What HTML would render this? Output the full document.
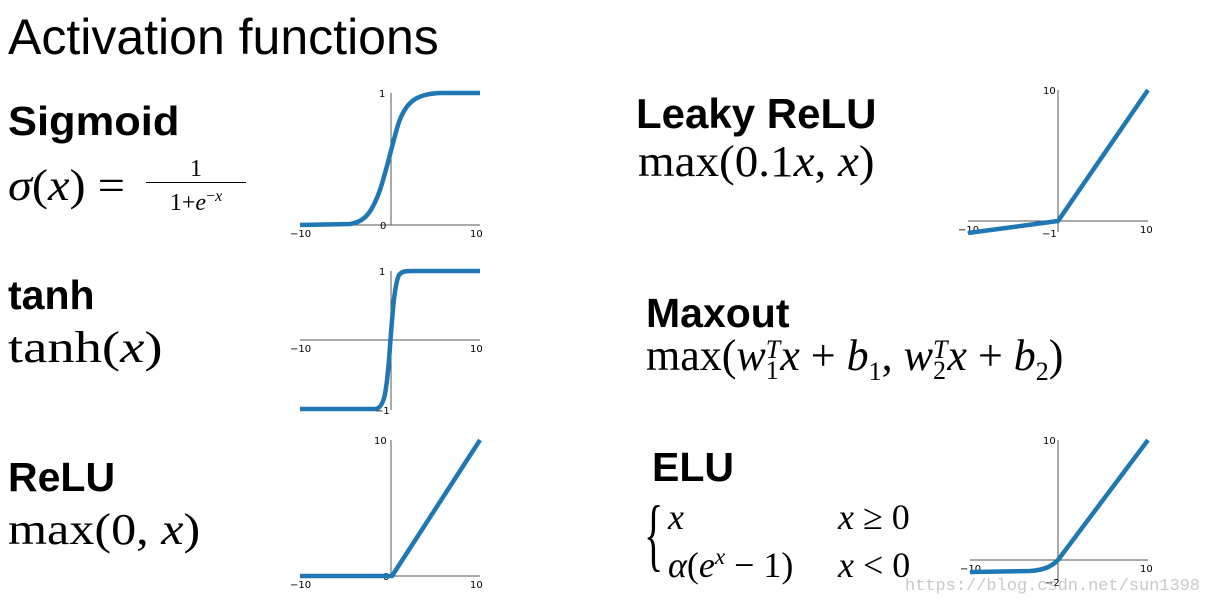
<!DOCTYPE html>
<html><head><meta charset="utf-8"><style>
html,body{margin:0;padding:0;background:#fff;}
body{width:1212px;height:605px;position:relative;overflow:hidden;}
.t{position:absolute;white-space:nowrap;color:#000;}
.h{font-family:"Liberation Sans",sans-serif;font-weight:bold;font-size:41px;transform-origin:left top;}
.m{font-family:"Liberation Serif",serif;font-size:44px;transform-origin:left top;}
i{font-style:italic;}
</style></head><body>
<div class="t" style="left:8px;top:8px;font-family:'Liberation Sans',sans-serif;font-size:50px;">Activation functions</div>

<div class="t h" style="left:8px;top:98px;transform:scaleX(1.06);">Sigmoid</div>
<div class="t m" style="left:8px;top:160px;transform:scaleX(1.1);"><i>σ</i>(<i>x</i>) =</div>
<div class="t" style="left:146px;top:156px;font-family:'Liberation Serif',serif;font-size:24px;text-align:center;width:100px;">
<div style="line-height:26px;">1</div><div style="border-top:1.5px solid #000;line-height:28px;">1+<i>e</i><sup style="font-size:16px">−<i>x</i></sup></div></div>

<div class="t h" style="left:8px;top:272px;">tanh</div>
<div class="t m" style="left:8px;top:322px;transform:scaleX(1.24);">tanh(<i>x</i>)</div>

<div class="t h" style="left:8px;top:454px;">ReLU</div>
<div class="t m" style="left:8px;top:504px;transform:scaleX(1.14);">max(0, <i>x</i>)</div>

<div class="t h" style="left:636px;top:90px;font-size:42px;">Leaky ReLU</div>
<div class="t m" style="left:638px;top:136px;transform:scaleX(1.07);">max(0.1<i>x</i>, <i>x</i>)</div>

<div class="t h" style="left:646px;top:290px;">Maxout</div>
<div class="t m" style="left:646px;top:330px;">max(<i>w</i><span style="display:inline-block;vertical-align:middle;font-size:26px;line-height:21px;text-align:left;"><i>T</i><br>1</span><i>x</i> + <i>b</i><sub style="font-size:26px">1</sub>, <i>w</i><span style="display:inline-block;vertical-align:middle;font-size:26px;line-height:21px;"><i>T</i><br>2</span><i>x</i> + <i>b</i><sub style="font-size:26px">2</sub>)</div>

<div class="t h" style="left:652px;top:444px;">ELU</div>
<div class="t" style="left:644px;top:490px;font-family:'Liberation Serif',serif;font-size:80px;transform:scaleX(0.5);transform-origin:left top;">{</div>
<div class="t m" style="left:668px;top:496px;font-size:36px;"><i>x</i></div>
<div class="t m" style="left:838px;top:496px;font-size:36px;"><i>x</i> ≥ 0</div>
<div class="t m" style="left:668px;top:544px;font-size:36px;"><i>α</i>(<i>e<sup style="font-size:23px">x</sup></i> − 1)</div>
<div class="t m" style="left:838px;top:544px;font-size:36px;"><i>x</i> &lt; 0</div>

<svg width="1212" height="605" style="position:absolute;left:0;top:0" font-family="DejaVu Sans,sans-serif" font-size="10">
<g stroke="#555" stroke-width="1" fill="none">
<path d="M300 225H480M391 93V225"/>
<path d="M300 340H480M391 271V410"/>
<path d="M300 576H480M391 440V576"/>
<path d="M968 221H1148M1058 90V232"/>
<path d="M970 560H1148M1058 440V582"/>
</g>
<g fill="#000">
<text x="290" y="237">−10</text><text x="470" y="237">10</text><text x="379" y="97">1</text><text x="380" y="229">0</text>
<text x="290" y="352">−10</text><text x="470" y="352">10</text><text x="379" y="275">1</text><text x="375" y="414">−1</text>
<text x="290" y="588">−10</text><text x="470" y="588">10</text><text x="374" y="444">10</text><text x="383" y="580">0</text>
<text x="958" y="233">−10</text><text x="1140" y="233">10</text><text x="1043" y="94">10</text><text x="1042" y="237">−1</text>
<text x="960" y="572">−10</text><text x="1140" y="572">10</text><text x="1043" y="444">10</text><text x="1045" y="586">−2</text>
</g>
<g stroke="#1f77b4" stroke-width="4.5" fill="none" stroke-linecap="butt">
<path d="M300 225 L350 224 C365 222 372 212 380 190 C388 165 392 145 398 125 C406 100 418 94 440 93 L480 93"/>
<path d="M300 409 L375 409 C384 408 386 395 389 360 C392 320 394 285 399 275 C402 271 406 271 415 271 L480 271"/>
<path d="M300 576 L392 576 L480 440"/>
<path d="M968 233 L1058 221 L1148 90"/>
<path d="M970 572 L1030 571 C1045 570 1052 566 1058 560 L1148 440"/>
</g>
<text x="905" y="590" font-family="Liberation Mono,monospace" font-size="17" fill="#bbb" opacity="0.8" textLength="295">https://blog.csdn.net/sun1398</text>
</svg>
</body></html>
